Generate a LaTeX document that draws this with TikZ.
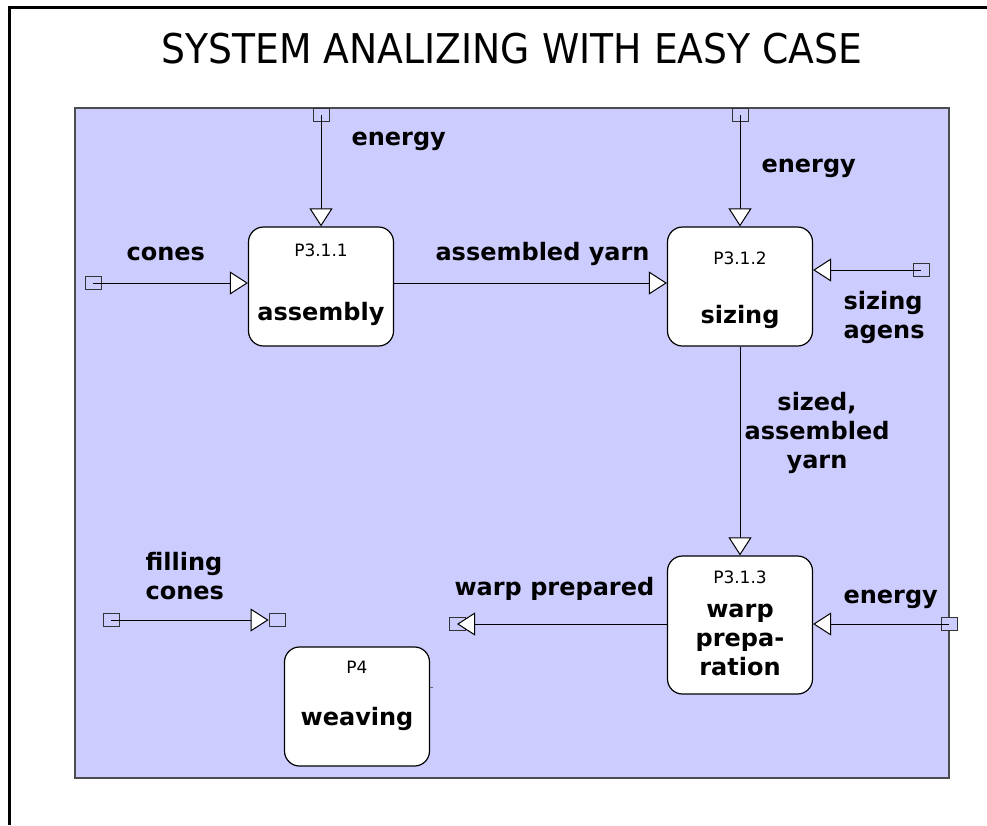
\documentclass[tikz,border=0pt]{standalone}
\usepackage{fontspec}
\setmainfont{DejaVu Sans}
\usetikzlibrary{arrows.meta}
\definecolor{bgblue}{RGB}{204,204,255}
\tikzset{
  proc/.style={draw, fill=white, rounded corners=15pt, line width=1.2pt,
    minimum width=145pt, minimum height=119pt, inner sep=0pt},
  pnum/.style={anchor=base, font=\fontsize{17}{20}\selectfont},
  pname/.style={anchor=base, align=center, font=\bfseries\fontsize{24}{29}\selectfont},
  lbl/.style={anchor=base west, align=left, font=\bfseries\fontsize{24}{29}\selectfont},
  port/.style={draw=black!80, fill=bgblue, line width=0.9pt,
    minimum width=16pt, minimum height=13pt, inner sep=0pt},
  flow/.style={line width=1pt, -{Triangle[length=18pt,width=23pt,fill=white]}},
}
\begin{document}
\begin{tikzpicture}[x=1pt,y=-1pt]
\useasboundingbox (0,0) rectangle (987,825);
\draw [line width=3pt] (9,825) -- (9,7) -- (987,7);
\node [anchor=base, font=\fontsize{41}{48}\selectfont] (title) at (512,63)
  {\scalebox{0.92}[1]{SYSTEM ANALIZING WITH EASY CASE}};
\draw [fill=bgblue, draw=black!70, line width=1.5pt] (75,108) rectangle (949,778);

% processes
\node [proc] (assembly) at (321,286.5) {};
\node [proc] (sizing) at (740,286.5) {};
\node [proc, minimum height=138pt] (warp) at (740,625) {};
\node [proc] (weaving) at (357,706.5) {};
\node [pnum] (n311) at (321,256) {P3.1.1};
\node [pname] (t311) at (321,320) {assembly};
\node [pnum] (n312) at (740,264) {P3.1.2};
\node [pname] (t312) at (740,323) {sizing};
\node [pnum] (n313) at (740,583) {P3.1.3};
\node [pname] (t313) at (740,675) {warp\\prepa-\\ration};
\node [pnum] (n4) at (357,673) {P4};
\node [pname] (t4) at (357,725) {weaving};

% ports
\node [port] (eA) at (321,115) {};
\node [port] (eB) at (740,115) {};
\node [port] (cones) at (93,283) {};
\node [port] (agens) at (921,270) {};
\node [port] (eC) at (949,624) {};
\node [port] (wout) at (457,624) {};
\node [port] (fill) at (111,620) {};
\node [port] (fillend) at (277,620) {};

% flows
\draw [flow] (eA.center) -- (assembly.north);
\draw [flow] (eB.center) -- (sizing.north);
\draw [flow] (cones.center) -- (assembly.west |- cones);
\draw [flow] (assembly.east |- cones) -- (sizing.west |- cones);
\draw [flow] (agens.center) -- (sizing.east |- agens);
\draw [flow] (sizing.south) -- (warp.north);
\draw [flow] (eC.center) -- (warp.east |- eC);
\draw [flow] (warp.west |- wout) -- (wout.center);
\draw [flow] (fill.center) -- (fillend.west);
\draw [black!60] ([yshift=19.5pt]weaving.east) -- +(3,0);

% labels
\node [lbl] (lE1) at (348,145) {energy};
\node [lbl] (lcones) at (123,260) {cones};
\node [lbl] (lay) at (432,260) {assembled yarn};
\node [lbl] (lE2) at (758,172) {energy};
\node [lbl] (lagens) at (840,338) {sizing\\agens};
\node [lbl, anchor=base, align=center] (lsized) at (817,468) {sized,\\assembled\\yarn};
\node [lbl] (lfill) at (142,599) {filling\\cones};
\node [lbl] (lwp) at (451,595) {warp prepared};
\node [lbl] (lE3) at (840,603) {energy};
\end{tikzpicture}
\end{document}
